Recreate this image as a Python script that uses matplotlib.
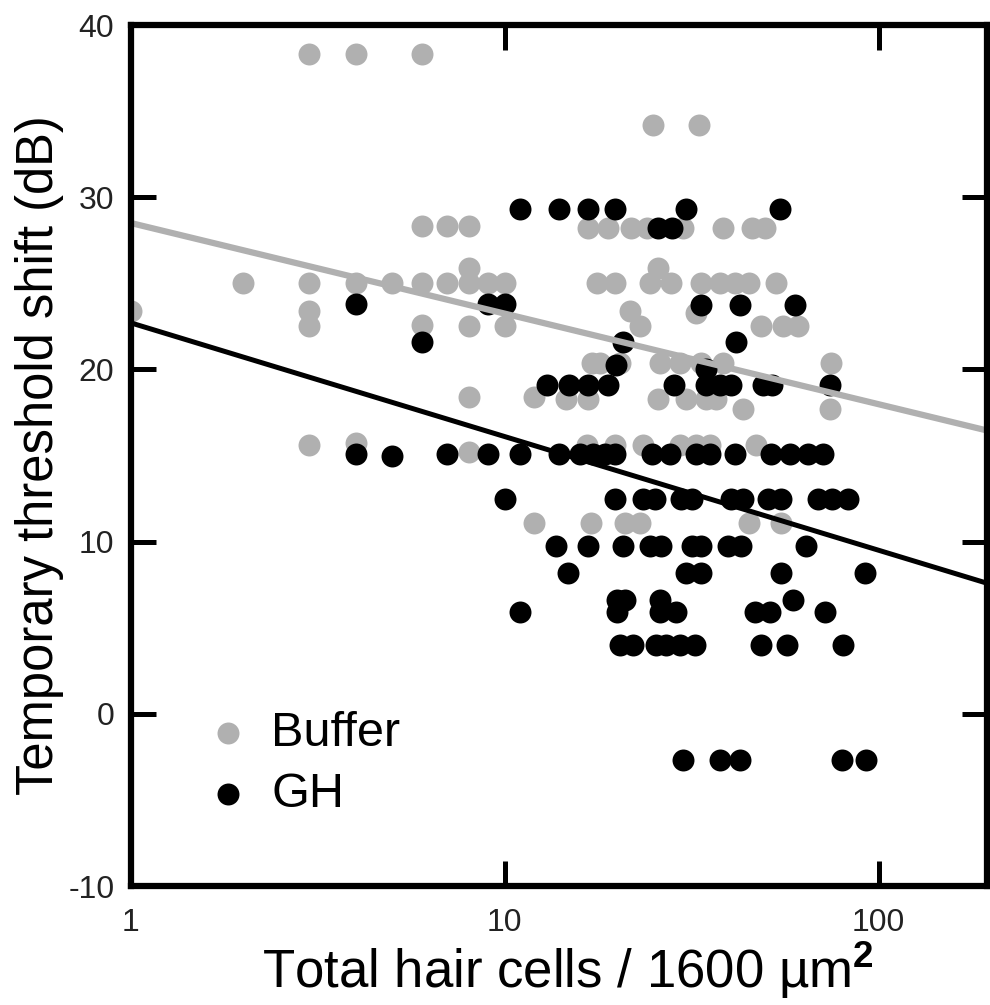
import numpy as np
import matplotlib
matplotlib.use("Agg")
import matplotlib.pyplot as plt
from matplotlib.ticker import FixedLocator, NullLocator, FixedFormatter

plt.rcParams['font.family'] = ['Liberation Sans', 'DejaVu Sans']
plt.rcParams['mathtext.fontset'] = 'custom'
plt.rcParams['mathtext.rm'] = 'Liberation Sans'
plt.rcParams['mathtext.bf'] = 'Liberation Sans:bold'

# ---------------- data ----------------
buffer_x = [3, 4, 6,
            25, 33,
            6, 7, 8, 16.7, 18.9, 21.8, 24, 29.9, 38.4, 46, 49.6,
            8, 25.7,
            2, 3, 4, 5, 6, 7, 8, 9, 10, 17.7, 19.7, 24.4, 27.9, 33.6, 37.6, 41.3, 45.1, 53.3,
            1, 3, 21.6, 32.5,
            3, 6, 8, 10, 23, 48.5, 55.5, 60.8,
            17.1, 18, 20.3, 26, 29.4, 33.4, 38.4, 74.7,
            8, 12, 14.6, 16.7, 25.7, 30.6, 34.6, 36.8,
            43.4, 74,
            3, 4, 8, 16.6, 19.7, 23.4, 29.4, 32.5, 35.5, 47,
            12, 17, 21, 23, 45, 55]
buffer_y = [38.3, 38.3, 38.3,
            34.2, 34.2,
            28.3, 28.3, 28.3, 28.2, 28.2, 28.2, 28.2, 28.2, 28.2, 28.2, 28.2,
            25.9, 25.9,
            25.0, 25.0, 25.0, 25.0, 25.0, 25.0, 25.0, 25.0, 25.0, 25.0, 25.0, 25.0, 25.0, 25.0, 25.0, 25.0, 25.0, 25.0,
            23.4, 23.4, 23.4, 23.3,
            22.5, 22.6, 22.5, 22.5, 22.5, 22.5, 22.5, 22.5,
            20.35, 20.35, 20.35, 20.35, 20.35, 20.35, 20.35, 20.35,
            18.4, 18.4, 18.3, 18.3, 18.3, 18.3, 18.3, 18.3,
            17.7, 17.7,
            15.6, 15.7, 15.2, 15.6, 15.6, 15.6, 15.6, 15.6, 15.6, 15.6,
            11.1, 11.1, 11.1, 11.1, 11.1, 11.1]

gh_x = [11, 14, 16.7, 19.7, 30.6, 54.4,
        25.7, 28.1,
        4, 9, 10, 33.6, 42.5, 59.6,
        6, 20.7, 41.6,
        19.9, 34.6,
        13, 14.9, 16.7, 18.9, 28.3, 34.6, 37.6, 40.2, 49, 52, 74,
        4, 5, 7, 9, 11, 14, 15.9, 17.2, 18.5, 19.7, 24.7, 27.6, 32.5, 35.5, 41.2, 51.5, 57.8, 64.6, 71,
        10, 19.7, 23.4, 25.2, 29.7, 31.6, 40.2, 43.4, 50.6, 55, 69, 75.3, 82.9,
        13.7, 16.7, 20.7, 24.4, 26.2, 31.6, 33.6, 39.5, 42.8, 64,
        14.8, 30.6, 33.5, 55, 91.8,
        20, 21, 26, 59,
        11, 20, 26, 28.8, 46.6, 51.2, 72,
        20.3, 22, 25.4, 27, 29.4, 32.2, 48.5, 57, 80.4,
        30, 37.6, 42.5, 80, 92.5]
gh_y = [29.3, 29.3, 29.3, 29.3, 29.3, 29.3,
        28.2, 28.2,
        23.8, 23.8, 23.8, 23.75, 23.75, 23.75,
        21.6, 21.6, 21.6,
        20.25, 20.05,
        19.1, 19.1, 19.1, 19.1, 19.1, 19.1, 19.1, 19.1, 19.1, 19.1, 19.1,
        15.1, 15.0, 15.1, 15.1, 15.1, 15.1, 15.1, 15.1, 15.1, 15.1, 15.1, 15.1, 15.1, 15.1, 15.1, 15.1, 15.1, 15.1, 15.1,
        12.5, 12.5, 12.5, 12.5, 12.5, 12.5, 12.5, 12.5, 12.5, 12.5, 12.5, 12.5, 12.5,
        9.75, 9.75, 9.75, 9.75, 9.75, 9.75, 9.75, 9.75, 9.75, 9.75,
        8.2, 8.2, 8.2, 8.2, 8.2,
        6.6, 6.6, 6.6, 6.6,
        5.9, 5.9, 5.9, 5.9, 5.9, 5.9, 5.9,
        4.0, 4.0, 4.0, 4.0, 4.0, 4.0, 4.0, 4.0, 4.0,
        -2.7, -2.7, -2.7, -2.7, -2.7]

# regression fits: y = intercept + slope * log10(x)
buffer_fit = (28.5, -5.26)
gh_fit = (22.7, -6.6)

x_ticks = [1, 10, 100]
x_tick_labels = ['1', '10', '100']
y_ticks = [-10, 0, 10, 20, 30, 40]
y_tick_labels = ['-10', '0', '10', '20', '30', '40']

series_labels = ['Buffer', 'GH']
gray = '#b0b0b0'

# ---------------- figure ----------------
fig = plt.figure(figsize=(9.9, 10.05), dpi=100)
ax = fig.add_axes([0.1323, 0.1184, 0.8646, 0.8567])

ax.set_xscale('log')
ax.set_xlim(1, 195)
ax.set_ylim(-10, 40)

s = 250
ax.scatter(buffer_x, buffer_y, s=s, color=gray, linewidths=0, zorder=2, label=series_labels[0])
ax.scatter(gh_x, gh_y, s=s, color='black', linewidths=0, zorder=3, label=series_labels[1])

xl = np.array(ax.get_xlim())
ax.plot(xl, buffer_fit[0] + buffer_fit[1] * np.log10(xl), color=gray, lw=4.5, zorder=4,
        solid_capstyle='butt')
ax.plot(xl, gh_fit[0] + gh_fit[1] * np.log10(xl), color='black', lw=3.6, zorder=5,
        solid_capstyle='butt')

for sp in ax.spines.values():
    sp.set_linewidth(4.5)
    sp.set_zorder(6)

ax.xaxis.set_major_locator(FixedLocator(x_ticks))
ax.xaxis.set_major_formatter(FixedFormatter(x_tick_labels))
ax.xaxis.set_minor_locator(NullLocator())
ax.yaxis.set_major_locator(FixedLocator(y_ticks))
ax.yaxis.set_major_formatter(FixedFormatter(y_tick_labels))

ax.tick_params(axis='both', which='major', direction='in', length=18, width=3.6,
               top=True, right=True, labelsize=23, colors='black', labelcolor='#222222')
ax.tick_params(axis='x', pad=16)
ax.tick_params(axis='y', pad=12)

ax.set_xlabel('Total hair cells / 1600 µm$^{\\mathbf{2}}$', fontsize=38)
ax.xaxis.set_label_coords(0.5105, -0.062)
ax.set_ylabel('Temporary threshold shift (dB)', fontsize=36.5, labelpad=3)

leg = ax.legend(loc='lower left', bbox_to_anchor=(0.056, 0.058), frameon=False,
                fontsize=35, scatterpoints=1, handletextpad=0.3, labelspacing=0.32,
                borderaxespad=0, handlelength=1.2)

fig.savefig('out.png', dpi=100)
